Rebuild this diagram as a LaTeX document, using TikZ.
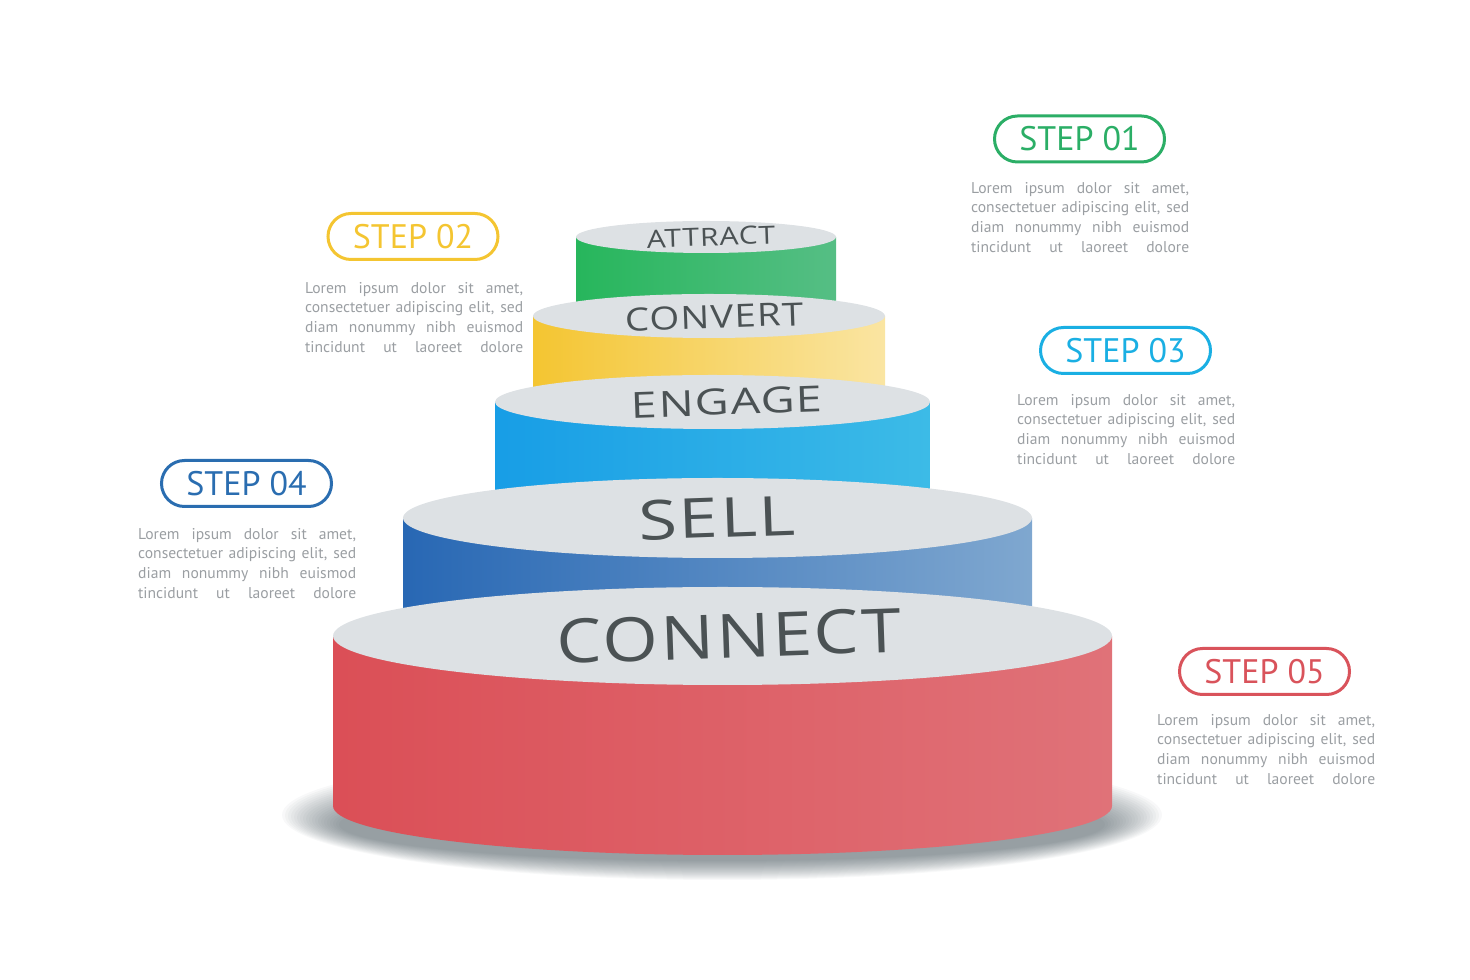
\documentclass[tikz,border=0pt]{standalone}
\usepackage{fontspec}
\setmainfont{PT Sans}
\newfontfamily\tierfont[LetterSpace=3]{Open Sans}
\definecolor{stepgreen}{HTML}{2BAE66}
\definecolor{stepyellow}{HTML}{F4C531}
\definecolor{stepcyan}{HTML}{1AAFE3}
\definecolor{stepblue}{HTML}{2A6DB0}
\definecolor{stepred}{HTML}{D9535B}
\definecolor{lidgray}{HTML}{DDE1E4}
\definecolor{labelgray}{HTML}{4B5254}
\definecolor{blurbgray}{HTML}{9A9EA2}
\definecolor{shadowslate}{HTML}{34444C}
\tikzstyle{badge}=[draw,line width=3pt,rounded corners=23pt,minimum width=170pt,minimum height=46pt,inner sep=0pt,font=\fontsize{34}{34}\selectfont]
\tikzstyle{blurb}=[anchor=north west,inner sep=0pt,text=blurbgray,font=\fontsize{15.6}{19.7}\selectfont]
\tikzstyle{lid}=[fill=lidgray]
\tikzstyle{tierlabel}=[text=labelgray,rotate=2,inner sep=0pt]
\newcommand{\blurbline}[1]{\hbox to 218pt{\spaceskip=0.25em plus 1fil\relax #1}}
\newcommand{\loremblurb}{\vbox{\blurbline{Lorem ipsum dolor sit amet,}\blurbline{consectetuer adipiscing elit, sed}\blurbline{diam nonummy nibh euismod}\blurbline{tincidunt ut laoreet dolore}}}

\begin{document}
\begin{tikzpicture}[x=1pt,y=1pt]
	\useasboundingbox (0,0) rectangle (1470,980);
	% floor shadow
	\foreach \k in {0,...,19}
		\fill [shadowslate, fill opacity=0.035] (722,165-0.5*\k) ellipse [x radius=440-3*\k, y radius=65-1.5*\k];
	% attract
	\shade [left color=stepgreen!90!green, right color=stepgreen!80!white] (576,743) -- (576,675) arc [start angle=180, end angle=360, x radius=130, y radius=16] -- (836,743) -- cycle;
	\fill [style=lid] (706,743) ellipse [x radius=130, y radius=16];
	\node [style=tierlabel, xscale=1.2, font=\tierfont\fontsize{25}{25}\selectfont] (attract) at (711,743) {ATTRACT};
	% convert
	\shade [left color=stepyellow, right color=stepyellow!45!white] (533,664) -- (533,585) arc [start angle=180, end angle=360, x radius=176, y radius=22] -- (885,664) -- cycle;
	\fill [style=lid] (709,664) ellipse [x radius=176, y radius=22];
	\node [style=tierlabel, xscale=1.2, font=\tierfont\fontsize{32}{32}\selectfont] (convert) at (714,663) {CONVERT};
	% engage
	\shade [left color=stepcyan!90!blue, right color=stepcyan!85!white] (495,578) -- (495,475) arc [start angle=180, end angle=360, x radius=217.5, y radius=27] -- (930,578) -- cycle;
	\fill [style=lid] (712.5,578) ellipse [x radius=217.5, y radius=27];
	\node [style=tierlabel, xscale=1.3, font=\tierfont\fontsize{36}{36}\selectfont] (engage) at (727,578) {ENGAGE};
	% sell
	\shade [left color=stepblue!95!blue, right color=stepblue!60!white] (403,462) -- (403,365) arc [start angle=180, end angle=360, x radius=314.5, y radius=40] -- (1032,462) -- cycle;
	\fill [style=lid] (717.5,462) ellipse [x radius=314.5, y radius=40];
	\node [style=tierlabel, xscale=1.28, font=\tierfont\fontsize{55}{55}\selectfont] (sell) at (717,462) {SELL};
	% connect
	\shade [left color=stepred!95!red, right color=stepred!82!white] (333,344) -- (333,174) arc [start angle=180, end angle=360, x radius=389.5, y radius=49] -- (1112,344) -- cycle;
	\fill [style=lid] (722.5,344) ellipse [x radius=389.5, y radius=49];
	\node [style=tierlabel, xscale=1.17, font=\tierfont\fontsize{61}{61}\selectfont] (connect) at (729,344) {CONNECT};
	% steps
	\node [style=badge, draw=stepgreen, text=stepgreen] (step1) at (1079.5,841) {STEP 01};
	\node [style=blurb] (text1) at (971,798) {\loremblurb};
	\node [style=badge, draw=stepyellow, text=stepyellow] (step2) at (413,743.5) {STEP 02};
	\node [style=blurb] (text2) at (305,698) {\loremblurb};
	\node [style=badge, draw=stepcyan, text=stepcyan] (step3) at (1125.5,629.5) {STEP 03};
	\node [style=blurb] (text3) at (1017,586) {\loremblurb};
	\node [style=badge, draw=stepblue, text=stepblue] (step4) at (246.5,496.5) {STEP 04};
	\node [style=blurb] (text4) at (138,452) {\loremblurb};
	\node [style=badge, draw=stepred, text=stepred] (step5) at (1264.5,308.5) {STEP 05};
	\node [style=blurb] (text5) at (1157,266) {\loremblurb};
\end{tikzpicture}
\end{document}
